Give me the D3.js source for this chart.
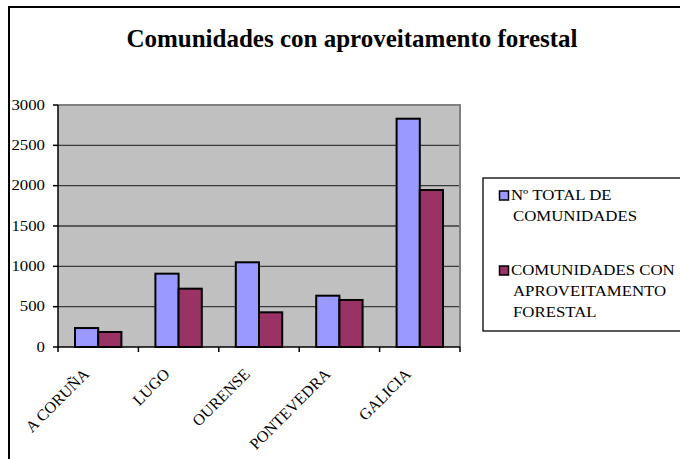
<!DOCTYPE html>
<html>
<head>
<meta charset="utf-8">
<script src="https://cdn.jsdelivr.net/npm/d3@7"></script>
<style>
  body { margin: 0; background: #fff; }
</style>
</head>
<body>
<div id="grafico"></div>
<script>
    // datos
    var provincias = ["A CORUÑA", "LUGO", "OURENSE", "PONTEVEDRA", "GALICIA"];
    var totalComunidades = [235, 909, 1050, 636, 2830];
    var conAproveitamento = [186, 723, 430, 583, 1946];
    var yTicks = [0, 500, 1000, 1500, 2000, 2500, 3000];
    var series = ["Nº TOTAL DE COMUNIDADES", "COMUNIDADES CON APROVEITAMENTO FORESTAL"];
    var legendLines = [["Nº TOTAL DE", "COMUNIDADES"], ["COMUNIDADES CON", "APROVEITAMENTO", "FORESTAL"]];
    var colores = ["#9999ff", "#993366"];

    var W = 680, H = 459;
    var margin = {top: 105, left: 58},
        width = 460 - margin.left,
        height = 347 - margin.top;
    var sx = 1.2; // el grafico original esta estirado en horizontal
    var fuente = "Liberation Serif";

    var svg = d3.select("#grafico")
      .append("svg")
        .attr("width", W)
        .attr("height", H);

    // marco exterior
    svg.append("path")
      .attr("d", "M9," + H + "V7H" + W)
      .attr("fill", "none")
      .attr("stroke", "#000")
      .attr("stroke-width", 2);

    // titulo
    svg.append("text")
      .attr("transform", "translate(352,47)")
      .attr("text-anchor", "middle")
      .attr("font-family", fuente)
      .attr("font-size", 25)
      .attr("font-weight", "bold")
      .text("Comunidades con aproveitamento forestal");

    var g = svg.append("g")
      .attr("transform", "translate(" + margin.left + "," + margin.top + ")");

    var x = d3.scaleBand()
      .domain(provincias)
      .range([0, width]);

    var x1 = d3.scaleBand()
      .domain([0, 1])
      .range([17, x.bandwidth() - 17]);

    var y = d3.scaleLinear()
      .domain([0, 3000])
      .range([height, 0]);

    // fondo
    g.append("rect")
      .attr("width", width)
      .attr("height", height)
      .attr("fill", "#c0c0c0");

    // lineas de division
    g.selectAll(".grid")
      .data(yTicks.slice(1, -1))
      .enter()
      .append("line")
        .attr("x1", 0).attr("x2", width)
        .attr("y1", function(d) { return y(d); })
        .attr("y2", function(d) { return y(d); })
        .attr("stroke", "#3a3a3a")
        .attr("stroke-width", 1.3);

    // borde gris arriba y derecha
    g.append("path")
      .attr("d", "M0,0H" + width + "V" + height)
      .attr("fill", "none")
      .attr("stroke", "#808080")
      .attr("stroke-width", 2);

    // barras
    var grupos = g.selectAll(".grupo")
      .data(provincias)
      .enter()
      .append("g")
        .attr("transform", function(d) { return "translate(" + x(d) + ",0)"; });

    [totalComunidades, conAproveitamento].forEach(function(vals, s) {
      grupos.append("rect")
        .attr("x", x1(s))
        .attr("width", x1.bandwidth())
        .attr("y", function(d, i) { return y(vals[i]); })
        .attr("height", function(d, i) { return height - y(vals[i]); })
        .attr("fill", colores[s])
        .attr("stroke", "#000")
        .attr("stroke-width", 2);
    });

    // eje y
    g.append("line")
      .attr("x1", 0).attr("x2", 0).attr("y1", 0).attr("y2", height)
      .attr("stroke", "#000").attr("stroke-width", 1.5);
    g.selectAll(".ytick")
      .data(yTicks)
      .enter()
      .append("line")
        .attr("x1", -5).attr("x2", 0)
        .attr("y1", function(d) { return y(d); })
        .attr("y2", function(d) { return y(d); })
        .attr("stroke", "#000").attr("stroke-width", 1.5);
    g.selectAll(".ylab")
      .data(yTicks)
      .enter()
      .append("text")
        .attr("transform", function(d) { return "translate(-13," + (y(d) + 4.8) + ") scale(" + sx + ",1)"; })
        .attr("text-anchor", "end")
        .attr("font-family", fuente)
        .attr("font-size", 14)
        .text(function(d) { return d; });

    // eje x
    g.append("line")
      .attr("x1", 0).attr("x2", width).attr("y1", height).attr("y2", height)
      .attr("stroke", "#000").attr("stroke-width", 1.5);
    var bordes = provincias.map(function(d) { return x(d); }).concat([width]);
    g.selectAll(".xtick")
      .data(bordes)
      .enter()
      .append("line")
        .attr("x1", function(d) { return d; })
        .attr("x2", function(d) { return d; })
        .attr("y1", height).attr("y2", height + 5)
        .attr("stroke", "#000").attr("stroke-width", 1.5);
    g.selectAll(".xlab")
      .data(provincias)
      .enter()
      .append("text")
        .attr("transform", function(d) {
          return "translate(" + (x(d) + x.bandwidth() / 2 - 8) + "," + (height + 28) + ") rotate(-45)";
        })
        .attr("text-anchor", "end")
        .attr("font-family", fuente)
        .attr("font-size", 16)
        .text(function(d) { return d; });

    // leyenda
    var ley = svg.append("g");
    ley.append("rect")
      .attr("x", 483).attr("y", 178)
      .attr("width", W - 483 + 5).attr("height", 153)
      .attr("fill", "#fff")
      .attr("stroke", "#000")
      .attr("stroke-width", 1.3);

    var itemY = [200, 275];
    series.forEach(function(s, i) {
      ley.append("rect")
        .attr("x", 499.5).attr("y", itemY[i] - 9)
        .attr("width", 9).attr("height", 9)
        .attr("fill", colores[i])
        .attr("stroke", "#000")
        .attr("stroke-width", 1.5);
      legendLines[i].forEach(function(linea, j) {
        ley.append("text")
          .attr("transform", "translate(" + (j === 0 ? 511 : 513) + "," + (itemY[i] + j * 21) + ") scale(" + sx + ",1)")
          .attr("font-family", fuente)
          .attr("font-size", 14)
          .text(linea);
      });
    });
</script>
</body>
</html>
